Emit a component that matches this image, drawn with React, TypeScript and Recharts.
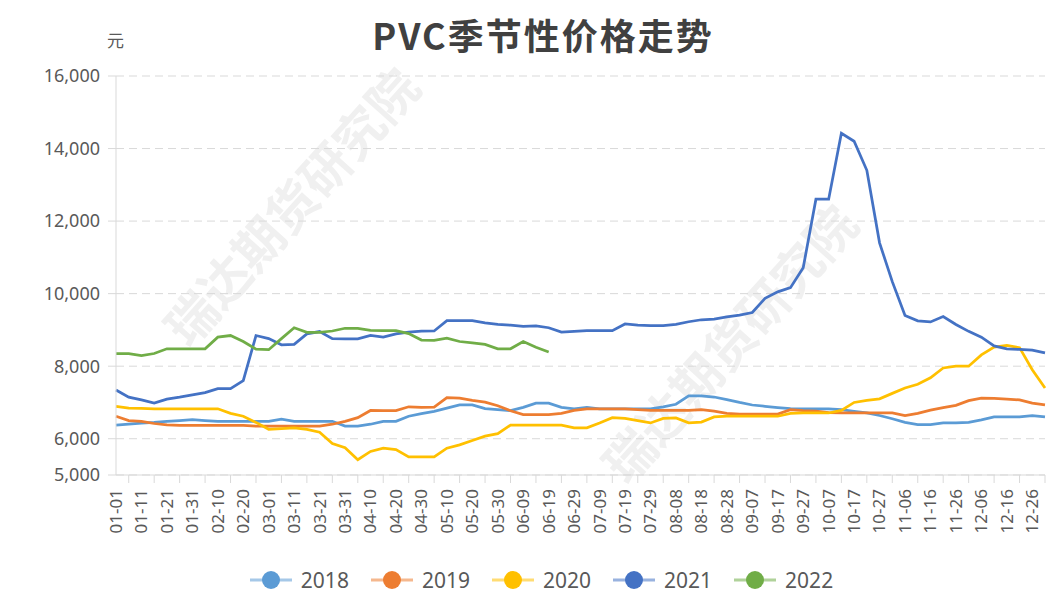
import { LineChart, Line, XAxis, YAxis, CartesianGrid } from "recharts";

// leap-year calendar, one category every 5 days
const MONTH_DAYS = [31, 29, 31, 30, 31, 30, 31, 31, 30, 31, 30, 31];
const STEP_DAYS = 5;

function buildDates() {
  const all: string[] = [];
  MONTH_DAYS.forEach((n, m) => {
    for (let d = 1; d <= n; d++) {
      all.push(`${String(m + 1).padStart(2, "0")}-${String(d).padStart(2, "0")}`);
    }
  });
  return all.filter((_, i) => i % STEP_DAYS === 0);
}

const dates = buildDates();

const yTicks = [5000, 6000, 8000, 10000, 12000, 14000, 16000];

const v2018 = [
  6375, 6400, 6430, 6450, 6480, 6500, 6525, 6500, 6480, 6480,
  6480, 6480, 6480, 6540, 6480, 6480, 6480, 6480, 6350, 6345,
  6400, 6480, 6480, 6620, 6690, 6755, 6845, 6935, 6935, 6830,
  6800, 6775, 6865, 6980, 6980, 6865, 6825, 6865, 6825, 6825,
  6825, 6825, 6825, 6880, 6950, 7180, 7180, 7150, 7080, 7000,
  6930, 6895, 6860, 6830, 6820, 6820, 6820, 6800, 6755, 6710,
  6640, 6550, 6450, 6390, 6390, 6435, 6435, 6450, 6520, 6600,
  6600, 6600, 6635, 6600,
];

const v2019 = [
  6620, 6500, 6480, 6420, 6380, 6365, 6365, 6365, 6365, 6365,
  6365, 6345, 6345, 6345, 6345, 6345, 6345, 6400, 6480, 6580,
  6780, 6775, 6775, 6880, 6865, 6870, 7130, 7120, 7055, 7010,
  6910, 6770, 6665, 6665, 6665, 6700, 6780, 6820, 6820, 6820,
  6820, 6800, 6780, 6780, 6780, 6780, 6800, 6760, 6700, 6680,
  6680, 6680, 6680, 6800, 6775, 6760, 6720, 6710, 6710, 6710,
  6710, 6710, 6640, 6700, 6790, 6860, 6920, 7050, 7120, 7110,
  7090, 7070, 6980, 6935,
];

const v2020 = [
  6890, 6845, 6840, 6825, 6825, 6825, 6825, 6825, 6825, 6700,
  6620, 6450, 6260, 6280, 6300, 6260, 6180, 5870, 5750, 5420,
  5650, 5740, 5700, 5500, 5500, 5500, 5740, 5830, 5950, 6070,
  6140, 6375, 6375, 6375, 6375, 6375, 6300, 6300, 6435, 6580,
  6560, 6500, 6435, 6560, 6575, 6440, 6460, 6600, 6620, 6620,
  6620, 6620, 6620, 6700, 6710, 6710, 6710, 6780, 7000, 7055,
  7100, 7250, 7400, 7500, 7680, 7950, 8000, 8000, 8310, 8525,
  8575, 8510, 7900, 7400,
];

const v2021 = [
  7345, 7145, 7070, 6980, 7090, 7145, 7210, 7270, 7380, 7380,
  7600, 8845, 8760, 8590, 8600, 8890, 8955, 8760, 8755, 8755,
  8850, 8800, 8890, 8940, 8965, 8970, 9255, 9255, 9255, 9195,
  9150, 9130, 9100, 9110, 9060, 8940, 8960, 8980, 8980, 8980,
  9165, 9130, 9120, 9120, 9150, 9225, 9280, 9300, 9360, 9410,
  9480, 9870, 10050, 10165, 10715, 12605, 12605, 14420, 14200, 13400,
  11400, 10330, 9400, 9250, 9220, 9370, 9150, 8960, 8800, 8560,
  8480, 8460, 8440, 8365,
];

const v2022 = [
  8345, 8345, 8290, 8350, 8480, 8480, 8480, 8480, 8800, 8845,
  8680, 8470, 8455, 8760, 9060, 8935, 8935, 8970, 9045, 9045,
  8990, 8980, 8980, 8900, 8720, 8710, 8775, 8680, 8645, 8600,
  8480, 8480, 8680, 8520, 8390,
];

const series = [
  { key: "2018", values: v2018, color: "#5B9BD5" },
  { key: "2019", values: v2019, color: "#ED7D31" },
  { key: "2020", values: v2020, color: "#FFC000" },
  { key: "2021", values: v2021, color: "#4472C4" },
  { key: "2022", values: v2022, color: "#70AD47" },
];

const data = dates.map((date, i) => {
  const row: Record<string, string | number | null> = { date };
  series.forEach((s) => {
    row[s.key] = i < s.values.length ? s.values[i] : null;
  });
  return row;
});

const FONT = '"Noto Sans", "Noto Sans CJK SC", sans-serif';
const AXIS_GRAY = "#d9d9d9";
const TEXT_GRAY = "#595959";

function DateTick(props: any) {
  const { x, y, payload, index } = props;
  if (index % 2 === 1) {
    return <line x1={x} x2={x} y1={y} y2={y + 8} stroke={AXIS_GRAY} />;
  }
  return (
    <text
      x={x}
      y={y}
      dx={-14}
      dy="0.35em"
      transform={`rotate(-90, ${x}, ${y})`}
      textAnchor="end"
      fill={TEXT_GRAY}
      fontSize={17}
      fontFamily={FONT}
    >
      {payload.value}
    </text>
  );
}

function Watermark({ left, top }: { left: number; top: number }) {
  return (
    <div
      style={{
        position: "absolute",
        left,
        top,
        transform: "translate(-50%, -50%) rotate(-48deg)",
        fontSize: 50,
        fontWeight: 700,
        color: "#f0f0f0",
        fontFamily: FONT,
        whiteSpace: "nowrap",
        pointerEvents: "none",
      }}
    >
      瑞达期货研究院
    </div>
  );
}

export default function App() {
  return (
    <div
      style={{
        position: "absolute",
        left: 0,
        top: 0,
        width: 1051,
        height: 613,
        background: "#fff",
        fontFamily: FONT,
        overflow: "hidden",
      }}
    >
      <Watermark left={290} top={205} />
      <Watermark left={728} top={342} />
      <div
        style={{
          position: "absolute",
          left: 0,
          top: 13,
          width: 1086,
          textAlign: "center",
          fontSize: 36,
          lineHeight: "42px",
          fontWeight: 700,
          color: "#404040",
          letterSpacing: 2,
          fontFamily: '"Noto Sans CJK SC", sans-serif',
        }}
      >
        PVC季节性价格走势
      </div>
      <div
        style={{
          position: "absolute",
          left: 107,
          top: 27,
          fontSize: 17,
          color: TEXT_GRAY,
          fontFamily: '"Noto Sans CJK SC", sans-serif',
        }}
      >
        元
      </div>
      <div style={{ position: "absolute", left: 0, top: 0 }}>
        <LineChart
          width={1051}
          height={613}
          data={data}
          margin={{ top: 76, right: 6, bottom: 0, left: 0 }}
        >
          <CartesianGrid
            vertical={false}
            stroke={AXIS_GRAY}
            strokeDasharray="8 5"
          />
          <XAxis
            dataKey="date"
            interval={0}
            height={138}
            tickLine={false}
            tickSize={0}
            tickMargin={0}
            axisLine={{ stroke: AXIS_GRAY }}
            tick={<DateTick />}
          />
          <YAxis
            width={116}
            domain={[5000, 16000]}
            ticks={yTicks}
            tickFormatter={(v: number) => v.toLocaleString("en-US")}
            tickSize={8}
            tickMargin={8}
            tickLine={{ stroke: AXIS_GRAY }}
            axisLine={{ stroke: AXIS_GRAY }}
            tick={{ fill: TEXT_GRAY, fontSize: 18, fontFamily: FONT }}
          />
          {series.map((s) => (
            <Line
              key={s.key}
              dataKey={s.key}
              type="linear"
              stroke={s.color}
              strokeWidth={2.75}
              dot={false}
              activeDot={false}
              isAnimationActive={false}
            />
          ))}
        </LineChart>
      </div>
      <div
        style={{
          position: "absolute",
          left: 16,
          top: 566,
          width: 1051,
          display: "flex",
          justifyContent: "center",
          gap: 22,
        }}
      >
        {series.map((s) => (
          <div key={s.key} style={{ display: "flex", alignItems: "center" }}>
            <svg width={42} height={24}>
              <line
                x1={0}
                x2={42}
                y1={12}
                y2={12}
                stroke={s.color}
                strokeOpacity={0.55}
                strokeWidth={3}
              />
              <circle cx={21} cy={12} r={9} fill={s.color} />
            </svg>
            <span
              style={{
                marginLeft: 9,
                fontSize: 21,
                color: TEXT_GRAY,
                fontFamily: FONT,
              }}
            >
              {s.key}
            </span>
          </div>
        ))}
      </div>
    </div>
  );
}
